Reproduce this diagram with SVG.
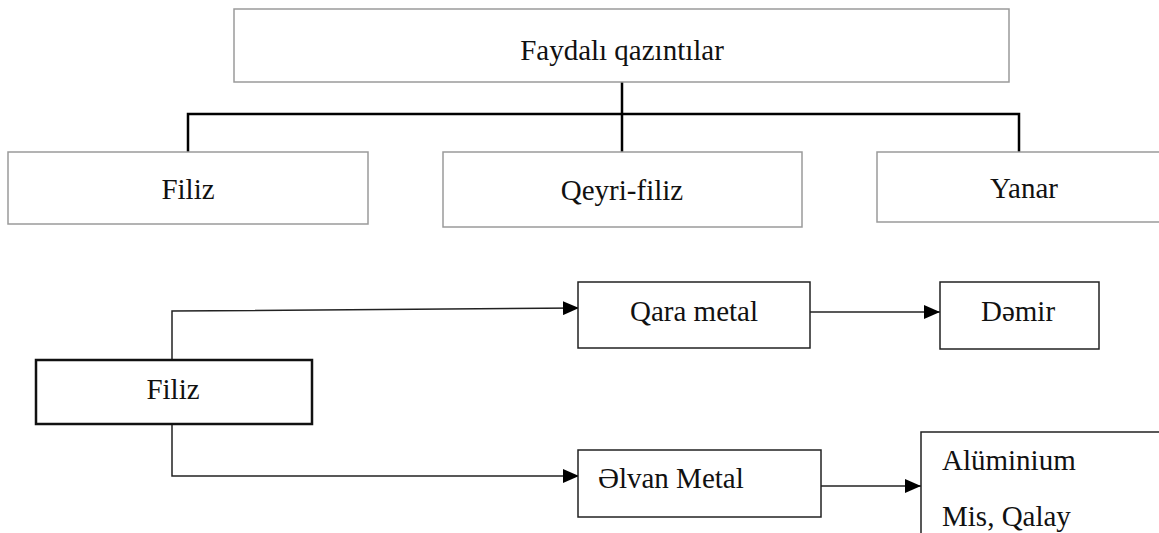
<svg xmlns="http://www.w3.org/2000/svg" width="1159" height="533" viewBox="0 0 1159 533">
<style>
text{font-family:"Liberation Serif","Times New Roman",serif;font-size:29px;fill:#111}
.c{text-anchor:middle}
.top{fill:#fff;stroke:#9a9a9a;stroke-width:1.5}
.low{fill:#fff;stroke:#222;stroke-width:1.5}
.thick{fill:#fff;stroke:#111;stroke-width:2.5}
.tree{fill:none;stroke:#000;stroke-width:2.5}
.arr{fill:none;stroke:#222;stroke-width:1.5}
</style>
<defs>
<marker id="ah" viewBox="0 0 16 14" refX="16" refY="7" markerWidth="16" markerHeight="14" markerUnits="userSpaceOnUse" orient="auto">
<path d="M0,0 L16,7 L0,14 Z" fill="#000"/>
</marker>
</defs>
<rect width="1159" height="533" fill="#fff"/>
<g id="connectors">
<path class="tree" d="M622,82 V152 M188,152 V114 H1019 V152"/>
<path class="arr" d="M172,360 V311 L579,308" marker-end="url(#ah)"/>
<path class="arr" d="M172,424 V476 H579" marker-end="url(#ah)"/>
<path class="arr" d="M810,312 H940" marker-end="url(#ah)"/>
<path class="arr" d="M821,486 H921" marker-end="url(#ah)"/>
</g>
<g id="n-faydali"><rect class="top" x="234" y="9" width="775" height="73"/><text class="c" x="622" y="60">Faydalı qazıntılar</text></g>
<g id="n-filiz-top"><rect class="top" x="8" y="152" width="360" height="72"/><text class="c" x="188" y="199">Filiz</text></g>
<g id="n-qeyri"><rect class="top" x="443" y="152" width="359" height="75"/><text class="c" x="622" y="200">Qeyri-filiz</text></g>
<g id="n-yanar"><rect class="top" x="877" y="152" width="290" height="70"/><text class="c" x="1024" y="198">Yanar</text></g>
<g id="n-filiz"><rect class="thick" x="36" y="360" width="276" height="64"/><text class="c" x="173" y="399">Filiz</text></g>
<g id="n-qara"><rect class="low" x="578" y="282" width="232" height="66"/><text class="c" x="694" y="321">Qara metal</text></g>
<g id="n-demir"><rect class="low" x="940" y="282" width="159" height="67"/><text class="c" x="1018" y="321">Dəmir</text></g>
<g id="n-elvan"><rect class="low" x="578" y="450" width="243" height="67"/><text x="598" y="488">Əlvan Metal</text></g>
<g id="n-aluminium"><rect class="low" x="921" y="432" width="250" height="120"/><text x="942" y="470">Alüminium</text><text x="942" y="526">Mis, Qalay</text></g>
</svg>
